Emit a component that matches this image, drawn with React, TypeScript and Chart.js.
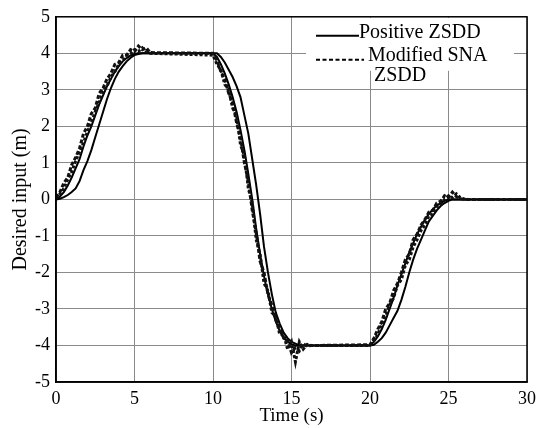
import React, { useEffect, useRef } from 'react';
import { Chart, registerables } from 'chart.js';

Chart.register(...registerables);

// Time samples (s)
const times: number[] = [
  0, 0.25, 0.5, 0.75, 1, 1.25, 1.5, 1.75, 2, 2.25, 2.5, 2.75, 3, 3.25, 3.5, 3.75, 4, 4.25, 4.5, 4.75, 5, 5.25, 5.5, 5.75, 6,
  10, 10.25, 10.5, 10.75, 11, 11.25, 11.5, 11.75, 12, 12.25, 12.5, 12.75, 13, 13.25, 13.5, 13.75, 14, 14.25, 14.5, 14.75, 15, 15.25, 15.5, 15.75, 16, 16.25, 16.5,
  20, 20.25, 20.5, 20.75, 21, 21.25, 21.5, 21.75, 22, 22.25, 22.5, 22.75, 23, 23.25, 23.5, 23.75, 24, 24.25, 24.5, 24.75, 25, 25.25, 25.5, 25.75, 26, 26.25, 26.5,
  30,
];

// Positive ZSDD (solid, two runs)
const positiveZsddA: number[] = [
  0, 0.02, 0.06, 0.12, 0.2, 0.3, 0.5, 0.8, 1.05, 1.35, 1.7, 2.05, 2.4, 2.75, 3.05, 3.3, 3.5, 3.65, 3.78, 3.88, 3.95, 3.98, 4, 4, 4,
  4, 4, 3.9, 3.75, 3.55, 3.35, 3.1, 2.8, 2.3, 1.8, 1.1, 0.4, -0.4, -1.3, -2.0, -2.6, -3.1, -3.4, -3.65, -3.8, -3.9, -3.95, -4, -4, -4, -4, -4,
  -4, -3.98, -3.9, -3.8, -3.65, -3.45, -3.25, -3.05, -2.75, -2.4, -2.0, -1.65, -1.35, -1.1, -0.85, -0.6, -0.45, -0.3, -0.18, -0.1, -0.04, 0, 0, 0, 0, 0, 0,
  0,
];
const positiveZsddB: number[] = [
  0, 0.08, 0.2, 0.38, 0.6, 0.85, 1.1, 1.45, 1.75, 2.0, 2.3, 2.6, 2.85, 3.1, 3.3, 3.5, 3.65, 3.78, 3.87, 3.94, 3.98, 4, 4, 4, 4,
  4, 3.9, 3.7, 3.45, 3.15, 2.8, 2.4, 1.9, 1.35, 0.7, 0.0, -0.8, -1.5, -2.1, -2.6, -3.0, -3.35, -3.6, -3.8, -3.9, -3.97, -4, -4, -4, -4, -4, -4,
  -4, -3.9, -3.75, -3.55, -3.3, -3.0, -2.7, -2.35, -2.05, -1.75, -1.45, -1.2, -0.95, -0.75, -0.55, -0.4, -0.27, -0.17, -0.1, -0.04, 0, 0, 0, 0, 0, 0, 0,
  0,
];

// Modified SNA ZSDD (dashed, two runs)
const modifiedSnaA: number[] = [
  0.05, 0.2, 0.45, 0.6, 0.95, 1.15, 1.4, 1.8, 2.0, 2.35, 2.5, 2.9, 3.05, 3.3, 3.45, 3.7, 3.75, 3.95, 3.95, 4.1, 4.05, 4.2, 4.1, 4.15, 4.02,
  4.0, 3.8, 3.5, 3.3, 2.9, 2.65, 2.1, 1.7, 1.0, 0.5, -0.3, -0.9, -1.7, -2.0, -2.6, -2.9, -3.3, -3.5, -3.8, -3.85, -4.2, -4.05, -4.15, -3.95, -4.02, -4, -4,
  -3.98, -3.8, -3.55, -3.35, -3.0, -2.85, -2.5, -2.3, -2.0, -1.65, -1.5, -1.1, -0.95, -0.7, -0.55, -0.35, -0.3, -0.1, -0.05, 0.1, 0.05, 0.2, 0.08, 0.02, 0, 0, 0,
  0,
];
const modifiedSnaB: number[] = [
  0.02, 0.15, 0.3, 0.55, 0.75, 1.05, 1.3, 1.55, 1.85, 2.1, 2.4, 2.65, 2.95, 3.1, 3.35, 3.5, 3.7, 3.8, 3.95, 3.98, 4.1, 4.05, 4.15, 4.05, 4.0,
  3.95, 3.7, 3.55, 3.15, 3.0, 2.5, 2.3, 1.5, 1.2, 0.3, -0.1, -1.1, -1.5, -2.3, -2.5, -3.1, -3.2, -3.7, -3.7, -4.1, -3.9, -4.45, -3.9, -4.1, -3.97, -4, -4,
  -4, -3.85, -3.7, -3.4, -3.2, -2.9, -2.7, -2.35, -2.2, -1.8, -1.65, -1.3, -1.1, -0.85, -0.7, -0.45, -0.4, -0.2, -0.15, 0.0, 0.1, 0.05, 0.15, 0.05, 0.01, 0, 0,
  0,
];

const xTickLabels = ['0', '5', '10', '15', '20', '25', '30'];
const yTickLabels = ['-5', '-4', '-3', '-2', '-1', '0', '1', '2', '3', '4', '5'];
const legendLabels = ['Positive ZSDD', 'Modified SNA', 'ZSDD'];

const SERIF = "'Liberation Serif', 'Times New Roman', serif";

const framePlugin = {
  id: 'frame',
  afterDraw(chart: any) {
    const { ctx, chartArea: a } = chart;
    ctx.save();
    ctx.strokeStyle = '#000';
    ctx.lineWidth = 1.5;
    ctx.strokeRect(a.left, a.top, a.right - a.left, a.bottom - a.top);
    ctx.restore();
  },
};

const legendPlugin = {
  id: 'boxLegend',
  afterDatasetsDraw(chart: any) {
    const { ctx, chartArea: a } = chart;
    const x0 = a.right - 221;
    const y0 = a.top;
    ctx.save();
    ctx.fillStyle = '#fff';
    ctx.fillRect(x0, y0 + 1, 208, 53);
    ctx.strokeStyle = '#000';
    ctx.lineWidth = 2;
    ctx.beginPath();
    ctx.moveTo(x0 + 10, y0 + 19);
    ctx.lineTo(x0 + 53, y0 + 19);
    ctx.stroke();
    ctx.setLineDash([4, 2.5]);
    ctx.beginPath();
    ctx.moveTo(x0 + 10, y0 + 43);
    ctx.lineTo(x0 + 58, y0 + 43);
    ctx.stroke();
    ctx.setLineDash([]);
    ctx.fillStyle = '#000';
    ctx.font = `20px ${SERIF}`;
    ctx.textBaseline = 'alphabetic';
    ctx.textAlign = 'left';
    ctx.fillText(legendLabels[0], x0 + 53, y0 + 21);
    ctx.fillText(legendLabels[1], x0 + 62, y0 + 44);
    ctx.fillText(legendLabels[2], x0 + 68, y0 + 64);
    ctx.restore();
  },
};

export default function App() {
  const ref = useRef<HTMLCanvasElement>(null);
  useEffect(() => {
    if (!ref.current) return;
    const mk = (vals: number[]) => times.map((t, i) => ({ x: t, y: vals[i] }));
    const tickFont = { family: SERIF, size: 18 };
    const xTitleFont = { family: SERIF, size: 19 };
    const yTitleFont = { family: SERIF, size: 20 };
    const chart = new Chart(ref.current, {
      type: 'line',
      data: {
        datasets: [
          { label: 'Modified SNA ZSDD', data: mk(modifiedSnaA), borderColor: '#111', borderWidth: 3, borderDash: [4, 2], pointRadius: 0, tension: 0 },
          { label: 'Modified SNA ZSDD (run 2)', data: mk(modifiedSnaB), borderColor: '#111', borderWidth: 3, borderDash: [3, 2], pointRadius: 0, tension: 0 },
          { label: 'Positive ZSDD', data: mk(positiveZsddA), borderColor: '#000', borderWidth: 2, pointRadius: 0, tension: 0 },
          { label: 'Positive ZSDD (run 2)', data: mk(positiveZsddB), borderColor: '#000', borderWidth: 2, pointRadius: 0, tension: 0 },
        ],
      },
      options: {
        responsive: false,
        animation: false,
        layout: { padding: { top: 14, right: 15, left: 0, bottom: 0 } },
        plugins: { legend: { display: false }, tooltip: { enabled: false } },
        scales: {
          x: {
            type: 'linear',
            min: 0,
            max: 30,
            ticks: {
              stepSize: 5,
              color: '#000',
              font: tickFont,
              padding: 6,
              maxRotation: 0,
              callback: (v: any) => xTickLabels[Math.round(Number(v) / 5)] ?? '',
            },
            grid: { color: '#8a8a8a', lineWidth: 1, drawTicks: false },
            border: { color: '#000', width: 1.5 },
            title: { display: true, text: 'Time (s)', color: '#000', font: xTitleFont, padding: { top: 0, bottom: 1 } },
            afterFit(s: any) { s.height = 46; },
          },
          y: {
            type: 'linear',
            min: -5,
            max: 5,
            ticks: {
              stepSize: 1,
              color: '#000',
              font: tickFont,
              padding: 6,
              callback: (v: any) => yTickLabels[Math.round(Number(v)) + 5] ?? '',
            },
            grid: { color: '#8a8a8a', lineWidth: 1, drawTicks: false },
            border: { color: '#000', width: 1.5 },
            title: { display: true, text: 'Desired input (m)', color: '#000', font: yTitleFont, padding: { top: 9, bottom: 0 } },
            afterFit(s: any) { s.width = 56; },
          },
        },
      },
      plugins: [framePlugin, legendPlugin],
    } as any);
    return () => chart.destroy();
  }, []);
  return (
    <div style={{ position: 'fixed', left: 0, top: 0, width: 542, height: 428, background: '#fff' }}>
      <canvas ref={ref} width={542} height={428} style={{ display: 'block', width: 542, height: 428 }} />
    </div>
  );
}
